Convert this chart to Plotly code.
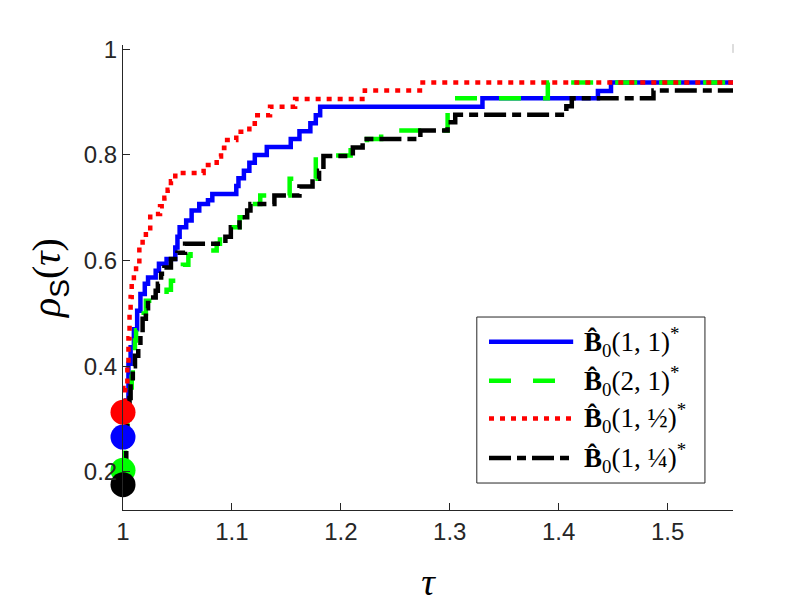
import plotly.graph_objects as go

# performance profile, values
tau_b = [1.000, 1.003, 1.005, 1.007, 1.010, 1.013, 1.016, 1.020, 1.023, 1.030, 1.033,
         1.040, 1.048, 1.050, 1.052, 1.058, 1.063, 1.070, 1.078, 1.082, 1.104, 1.106,
         1.111, 1.116, 1.121, 1.132, 1.154, 1.162, 1.172, 1.177, 1.181, 1.330, 1.436,
         1.448, 1.560]
rho_b = [0.266, 0.335, 0.405, 0.436, 0.470, 0.505, 0.537, 0.556, 0.568, 0.581, 0.594,
         0.603, 0.625, 0.645, 0.663, 0.676, 0.695, 0.707, 0.714, 0.726, 0.741, 0.756,
         0.770, 0.785, 0.800, 0.815, 0.830, 0.845, 0.860, 0.875, 0.891, 0.907, 0.921,
         0.937, 0.937]

tau_g = [1.000, 1.002, 1.004, 1.007, 1.008, 1.009, 1.010, 1.011, 1.012, 1.019, 1.021,
         1.030, 1.040, 1.044, 1.049, 1.055, 1.060, 1.062, 1.086, 1.089, 1.101, 1.107,
         1.114, 1.117, 1.126, 1.153, 1.177, 1.209, 1.224, 1.237, 1.298, 1.390, 1.560]
rho_g = [0.203, 0.260, 0.310, 0.360, 0.380, 0.400, 0.430, 0.449, 0.468, 0.500, 0.524,
         0.530, 0.545, 0.562, 0.578, 0.592, 0.609, 0.619, 0.632, 0.645, 0.663, 0.682,
         0.695, 0.707, 0.723, 0.755, 0.799, 0.816, 0.830, 0.846, 0.907, 0.937, 0.937]

tau_r = [1.000, 1.002, 1.004, 1.005, 1.006, 1.007, 1.008, 1.010, 1.012, 1.015, 1.018,
         1.021, 1.025, 1.034, 1.038, 1.041, 1.044, 1.048, 1.074, 1.086, 1.090, 1.093,
         1.104, 1.116, 1.121, 1.135, 1.158, 1.222, 1.275, 1.560]
rho_r = [0.313, 0.359, 0.406, 0.453, 0.500, 0.531, 0.563, 0.578, 0.594, 0.625, 0.641,
         0.656, 0.688, 0.703, 0.719, 0.734, 0.750, 0.766, 0.781, 0.797, 0.813, 0.828,
         0.844, 0.859, 0.875, 0.891, 0.906, 0.922, 0.937, 0.937]

tau_k = [1.000, 1.003, 1.004, 1.006, 1.007, 1.009, 1.011, 1.014, 1.016, 1.018, 1.021,
         1.023, 1.030, 1.032, 1.035, 1.038, 1.044, 1.050, 1.057, 1.094, 1.099, 1.107,
         1.114, 1.117, 1.139, 1.162, 1.174, 1.180, 1.184, 1.211, 1.220, 1.273, 1.298,
         1.305, 1.407, 1.412, 1.487, 1.560]
rho_k = [0.176, 0.250, 0.300, 0.340, 0.370, 0.400, 0.420, 0.440, 0.460, 0.490, 0.510,
         0.530, 0.543, 0.556, 0.575, 0.587, 0.603, 0.615, 0.632, 0.645, 0.663, 0.682,
         0.695, 0.707, 0.723, 0.740, 0.755, 0.770, 0.798, 0.814, 0.830, 0.846, 0.862,
         0.876, 0.892, 0.907, 0.922, 0.922]

names = ["<b>B\u0302</b><sub>0</sub>(1, 1)<sup>*</sup>",
         "<b>B\u0302</b><sub>0</sub>(2, 1)<sup>*</sup>",
         "<b>B\u0302</b><sub>0</sub>(1, \u00bd)<sup>*</sup>",
         "<b>B\u0302</b><sub>0</sub>(1, \u00bc)<sup>*</sup>"]
colors = ["#0000ff", "#00ff00", "#ff0000", "#000000"]
dashes = ["solid", "22px,22px", "5px,6px", "22px,6px,9px,6px"]

series = [(tau_b, rho_b), (tau_g, rho_g), (tau_r, rho_r), (tau_k, rho_k)]

fig = go.Figure()
for (t, r), c, d, n in zip(series, colors, dashes, names):
    fig.add_trace(go.Scatter(x=t, y=r, mode="lines", line_shape="hv",
                             line=dict(color=c, width=4.5, dash=d),
                             name=n, showlegend=False))

# start markers at tau = 1
for (t, r), c in zip(series, colors):
    fig.add_trace(go.Scatter(x=[t[0]], y=[r[0]], mode="markers",
                             marker=dict(color=c, size=25), cliponaxis=False,
                             showlegend=False))

axis_col = "#262626"
tick_font = dict(family="Liberation Sans, Arial, sans-serif", size=24, color=axis_col)

fig.update_layout(
    width=810, height=607,
    margin=dict(l=115, r=85, t=37, b=105),
    paper_bgcolor="white", plot_bgcolor="white",
    xaxis=dict(range=[1, 1.56], tickvals=[1, 1.1, 1.2, 1.3, 1.4, 1.5],
               ticktext=["1", "1.1", "1.2", "1.3", "1.4", "1.5"],
               showgrid=False, zeroline=False, showline=True, linecolor=axis_col,
               linewidth=1, ticks="inside", ticklen=7, tickcolor=axis_col,
               tickfont=tick_font,
               title=dict(text="<i>τ</i>", standoff=24,
                          font=dict(family="Liberation Serif, serif", size=38,
                                    color="black"))),
    yaxis=dict(range=[0.128, 1.008], tickvals=[0.2, 0.4, 0.6, 0.8, 1.0],
               ticktext=["0.2", "0.4", "0.6", "0.8", "1"],
               showgrid=False, zeroline=False, showline=True, linecolor=axis_col,
               linewidth=1, ticks="inside", ticklen=7, tickcolor=axis_col,
               tickfont=tick_font,
               title=dict(text="<i>ρ</i><sub><span style='font-family:Liberation Sans'>S</span></sub>(<i>τ</i>)",
                          standoff=10,
                          font=dict(family="Liberation Serif, serif", size=40,
                                    color="black"))),
)

# legend box drawn by hand so the line samples are long like the original
fig.add_shape(type="rect", xref="paper", yref="paper", x0=0.580, x1=0.954,
              y0=0.058, y1=0.415, line=dict(color=axis_col, width=1),
              fillcolor="white", layer="above")
rows = [0.362, 0.278, 0.197, 0.112]
for yy, c, d, n in zip(rows, colors, dashes, names):
    fig.add_shape(type="line", xref="paper", yref="paper", x0=0.600, x1=0.738,
                  y0=yy, y1=yy, line=dict(color=c, width=4.5, dash=d), layer="above")
    fig.add_annotation(xref="paper", yref="paper", x=0.752, y=yy, text=n,
                       showarrow=False, xanchor="left", yanchor="middle",
                       font=dict(family="Liberation Serif, serif", size=27, color="black"))

fig.add_shape(type="line", xref="paper", yref="paper", x0=1.0, x1=1.0,
              y0=0.983, y1=1.002, line=dict(color="#bbbbbb", width=1))

fig.write_html("out.html")
